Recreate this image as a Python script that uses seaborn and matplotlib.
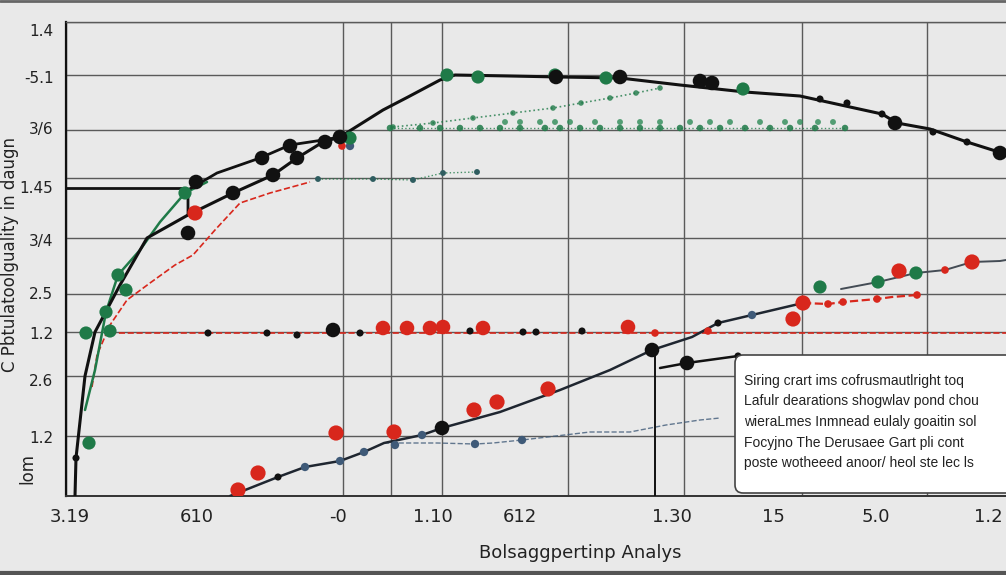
import numpy as np
import pandas as pd
import matplotlib
matplotlib.use("Agg")
import matplotlib.pyplot as plt
import seaborn as sns
from matplotlib.patches import FancyBboxPatch
from matplotlib.lines import Line2D

# ---------------- data (x: 0..940, y: 0..474) ----------------
grid_x = [0, 131, 277, 325, 376, 502, 618, 736, 861]
grid_y = [60, 120, 164, 202, 258, 318, 366, 421, 474]

xtick_pos = [4, 131, 272, 367, 454, 606, 707, 810, 922]
xtick_labels = ["3.19", "610", "-0", "1.10", "612", "1.30", "15", "5.0", "1.2"]
ytick_pos = [466, 419, 368, 309, 256, 203, 163, 116, 59]
ytick_labels = ["1.4", "-5.1", "3/6", "1.45", "3/4", "2.5", "1.2", "2.6", "1.2"]

# main black curve
a_x = [9, 10, 19, 29, 54, 81, 122, 167, 207, 231, 257, 274, 317, 342, 374, 389, 444, 494,
       554, 614, 679, 734, 784, 816, 831, 864, 901, 936]
a_y = [0, 38, 120, 164, 211, 258, 281, 303, 321, 338, 354, 359, 386, 399, 416, 421, 420, 419,
       418, 411, 404, 400, 389, 382, 373, 367, 354, 343]
# upper black branch
b_x = [122, 122, 151, 194, 224, 257, 274]
b_y = [281, 306, 323, 338, 351, 356, 359]
# black horizontal stub
d_x = [0, 119]
d_y = [308, 308]
# green rising curve
g_x = [19, 29, 40, 52, 74, 94, 119, 141]
g_y = [86, 126, 184, 221, 246, 274, 303, 314]
# green dotted rows
e_x = [324, 354, 374, 394, 414, 434, 454, 479, 494, 514, 534, 554, 574, 594, 614, 634, 654,
       679, 704, 724, 749, 779]
e_y = [368] * 22
e2_x = [439, 454, 474, 489, 504, 529, 554, 574, 594, 624, 644, 664, 694, 719, 734, 752, 767]
e2_y = [374] * 17
f_x = [327, 367, 407, 447, 487, 515, 544, 570, 594]
f_y = [369, 373, 378, 383, 388, 393, 398, 403, 408]
h2_x = [252, 307, 347, 377, 411]
h2_y = [317, 317, 316, 323, 324]
# red dashed curve
h_x = [26, 31, 44, 61, 84, 109, 127, 149, 174, 204, 244]
h_y = [109, 141, 171, 196, 213, 231, 241, 266, 293, 303, 314]
# red dashed horizontal
j_x = [44, 940]
j_y = [163, 163]
j_black_x = [142, 201, 231, 267, 294, 404, 457, 470, 516]
j_black_y = [163, 163, 161, 166, 163, 165, 164, 164, 165]
j_red_x = [317, 341, 364, 377, 417, 562]
j_red_y = [168, 168, 168, 169, 168, 169]
# lower slate/black line
k_x = [164, 212, 239, 274, 298, 318, 356, 376, 434, 494, 544, 586, 626, 652, 686, 737]
k_y = [0, 19, 29, 35, 44, 53, 61, 68, 84, 106, 126, 146, 159, 173, 181, 193]
l_x = [737, 762, 777, 811, 826, 851]
l_y = [193, 192, 194, 197, 199, 201]
l2_x = [775, 812, 850, 879, 906, 934, 940]
l2_y = [207, 214, 223, 226, 234, 235, 236]
m_x = [318, 341, 371, 409, 427, 456, 524, 564, 600, 634, 654]
m_y = [53, 53, 53, 52, 53, 56, 64, 64, 71, 76, 78]
n_x = [594, 621, 672]
n_y = [128, 133, 140]
v_x = [589]
v_top = [146]

# markers
big_black_x = [130, 122, 167, 196, 207, 224, 231, 259, 274, 490, 554, 634, 646, 829, 934, 586, 621, 376, 267]
big_black_y = [314, 263, 303, 338, 321, 350, 338, 354, 359, 419, 419, 415, 413, 373, 343, 146, 133, 68, 166]
small_black_x = [10, 781, 754, 816, 867, 901, 652, 672, 212]
small_black_y = [38, 393, 397, 382, 364, 354, 173, 140, 19]
green_x = [20, 44, 40, 60, 52, 23, 119, 381, 412, 489, 540, 677, 284, 754, 812, 850]
green_y = [163, 165, 184, 206, 221, 53, 303, 421, 419, 421, 418, 407, 358, 209, 214, 223]
slate_x = [239, 274, 298, 356, 329, 686, 409, 456, 284]
slate_y = [29, 35, 44, 61, 51, 181, 52, 56, 350]
red_x = [172, 192, 270, 328, 408, 431, 482, 737, 727, 833, 906, 129]
red_y = [6, 23, 63, 64, 86, 94, 107, 193, 177, 225, 234, 283]
small_red_x = [276, 589, 642, 762, 777, 811, 879, 851]
small_red_y = [350, 163, 165, 192, 194, 197, 226, 201]

note_lines = [
    "Siring crart ims cofrusmautlright toq",
    "Lafulr dearations shogwlav pond chou",
    "wieraLmes Inmnead eulaly goaitin sol",
    "Focyjno The Derusaee Gart pli cont",
    "poste wotheeed anoor/ heol ste lec ls",
]

# ---------------- drawing ----------------
sns.set_theme(style="white")
plt.rcParams['font.family'] = ['DejaVu Sans']
BG = "#e9e9e9"
BLACK = "#111111"
GREEN = "#1f7a48"
RED = "#d8271c"
SLATE = "#3f5a78"

fig = plt.figure(figsize=(10.06, 5.75), dpi=100, facecolor=BG)
ax = fig.add_axes([66 / 1006, 79 / 575, 940 / 1006, 474 / 575])
ax.set_facecolor(BG)
ax.set_xlim(0, 940)
ax.set_ylim(0, 474)

ax.set_xticks(grid_x, minor=True)
ax.set_yticks(grid_y, minor=True)
ax.grid(which='minor', color='#5a5a5a', lw=1.0)
ax.grid(which='major', visible=False)
ax.set_xticks(xtick_pos)
ax.set_xticklabels(xtick_labels, fontsize=13, color='#222222')
ax.set_yticks(ytick_pos)
ax.set_yticklabels(ytick_labels, fontsize=11, color='#222222')
ax.tick_params(which='both', length=0)
ax.tick_params(axis='x', pad=9)
ax.tick_params(axis='y', pad=9)
ax.spines['right'].set_visible(False)
ax.spines['top'].set_color('#5a5a5a')
ax.spines['top'].set_linewidth(1.0)
ax.spines['left'].set_color(BLACK)
ax.spines['left'].set_linewidth(1.6)
ax.spines['bottom'].set_color('#333333')
ax.spines['bottom'].set_linewidth(1.4)

def line(x, y, color, lw, ls='-', z=3, alpha=1.0):
    df = pd.DataFrame({"x": x, "y": y})
    sns.lineplot(data=df, x="x", y="y", sort=False, estimator=None, color=color,
                 lw=lw, linestyle=ls, ax=ax, zorder=z, alpha=alpha)

def dots(x, y, color, s, z=5, alpha=1.0):
    df = pd.DataFrame({"x": x, "y": y})
    sns.scatterplot(data=df, x="x", y="y", color=color, s=s, edgecolor='none',
                    ax=ax, zorder=z, alpha=alpha)

line(j_x, j_y, RED, 1.2, '--', z=2)
line(h_x, h_y, RED, 1.2, '--', z=2)
line(e_x, e_y, GREEN, 1.0, ':', z=2, alpha=0.8)
line(f_x, f_y, GREEN, 1.2, ':', z=2, alpha=0.8)
line(h2_x, h2_y, GREEN, 1.0, ':', z=2, alpha=0.8)
line(m_x, m_y, SLATE, 1.0, '--', z=2, alpha=0.8)
line(l_x, l_y, RED, 1.6, '--', z=3)
line(l2_x, l2_y, "#444c55", 1.4, '-', z=3)
line(d_x, d_y, BLACK, 2.0)
line(g_x, g_y, GREEN, 1.8)
line(b_x, b_y, BLACK, 2.0)
line(a_x, a_y, BLACK, 2.2, z=4)
line(k_x, k_y, "#1f2630", 1.8)
line(n_x, n_y, BLACK, 1.8)
for vx, vt in zip(v_x, v_top):
    line([vx, vx], [0, vt], BLACK, 1.4)

dots(e_x, e_y, GREEN, 22, alpha=0.85)
dots(e2_x, e2_y, "#2e8b57", 18, alpha=0.8)
dots(f_x, f_y, GREEN, 16, alpha=0.8)
dots(h2_x, h2_y, "#2f5d60", 18)
dots(j_black_x, j_black_y, BLACK, 26)
dots(j_red_x, j_red_y, RED, 110)
dots(small_red_x, small_red_y, RED, 30)
dots(red_x, red_y, RED, 120)
dots(slate_x, slate_y, SLATE, 36)
dots(green_x, green_y, GREEN, 90)
dots(small_black_x, small_black_y, BLACK, 26)
dots(big_black_x, big_black_y, BLACK, 110)

ax.set_xlabel("")
ax.set_ylabel("")

# axis titles
fig.text(10 / 1006, 1 - 255 / 575, "C Pbtulatoolguality in daugn", rotation=90,
         ha='center', va='center', fontsize=12, color='#222222')
fig.text(27 / 1006, 1 - 468 / 575, "lom", rotation=90, ha='center', va='center',
         fontsize=12, color='#222222')
fig.text(580 / 1006, 1 - 553 / 575, "Bolsaggpertinp Analys", ha='center', va='center',
         fontsize=13, color='#222222')

# note box
box = FancyBboxPatch((735 / 1006, 82 / 575), 300 / 1006, 138 / 575,
                     boxstyle="round,pad=0,rounding_size=0.008",
                     transform=fig.transFigure, facecolor='white', edgecolor='#444444',
                     lw=1.2, zorder=10, mutation_aspect=1006 / 575)
fig.add_artist(box)
for i, t in enumerate(note_lines):
    fig.text(744 / 1006, 1 - (381 + i * 20.5) / 575, t, ha='left', va='center',
             fontsize=10, color='#222222', zorder=11, family=['Liberation Sans', 'DejaVu Sans'])

# image frame lines
fig.add_artist(Line2D([0, 1], [1 - 1 / 575] * 2, transform=fig.transFigure, color='#666666', lw=2))
fig.add_artist(Line2D([0, 1], [1 - 573 / 575] * 2, transform=fig.transFigure, color='#555555', lw=3))

fig.savefig("out.png", dpi=100, facecolor=BG)
